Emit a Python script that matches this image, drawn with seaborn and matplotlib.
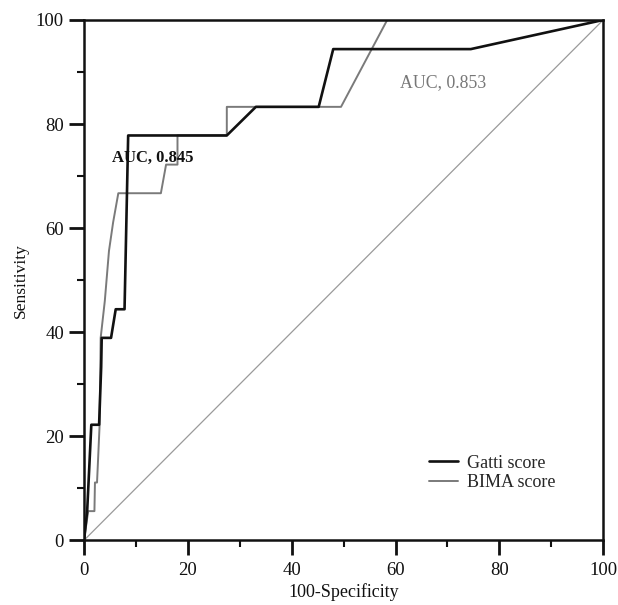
import matplotlib
matplotlib.use("Agg")
import matplotlib.pyplot as plt
import seaborn as sns
import pandas as pd
from matplotlib.ticker import MultipleLocator

# ROC data (100-Specificity, Sensitivity)
gatti_x = [0, 0.6, 1.4, 2.9, 3.3, 3.4, 5.2, 6.1, 7.8, 8.5, 27.5, 33.1, 45.2, 48.0, 74.5, 100]
gatti_y = [0, 5.6, 22.2, 22.2, 33.3, 38.9, 38.9, 44.4, 44.4, 77.8, 77.8, 83.3, 83.3, 94.4, 94.4, 100]

bima_x = [0, 0.8, 2.0, 2.1, 2.5, 3.0, 3.2, 4.0, 4.8, 5.6, 6.6, 14.8, 15.8, 18.0, 18.0, 27.5, 27.5, 49.5, 58.4, 100]
bima_y = [0, 5.6, 5.6, 11.1, 11.1, 22.2, 38.9, 46.0, 55.6, 61.1, 66.7, 66.7, 72.2, 72.2, 77.8, 77.8, 83.3, 83.3, 100, 100]

series_names = ["Gatti score", "BIMA score"]
auc_labels = ["AUC, 0.845", "AUC, 0.853"]
ticks = [0, 20, 40, 60, 80, 100]

df = pd.concat([
    pd.DataFrame({"x": gatti_x, "y": gatti_y, "score": series_names[0]}),
    pd.DataFrame({"x": bima_x, "y": bima_y, "score": series_names[1]}),
], ignore_index=True)

sns.set_theme(style="white")
plt.rcParams["font.family"] = ["Liberation Serif", "DejaVu Serif"]

fig = plt.figure(figsize=(6.18, 6.05), dpi=100)
ax = fig.add_axes([0.136, 0.107, 0.840, 0.860])

# reference diagonal
diag = pd.DataFrame({"x": [0, 100], "y": [0, 100]})
sns.lineplot(data=diag, x="x", y="y", ax=ax, color="#9a9a9a", linewidth=0.9,
             estimator=None, sort=False, legend=False)

palette = {series_names[0]: "#111111", series_names[1]: "#7a7a7a"}
sizes = {series_names[0]: 1.9, series_names[1]: 1.4}
for name in series_names[::-1]:
    sub = df[df["score"] == name]
    sns.lineplot(data=sub, x="x", y="y", ax=ax, color=palette[name],
                 linewidth=sizes[name], estimator=None, sort=False, label=name)

ax.set_xlim(0, 100)
ax.set_ylim(0, 100)
ax.set_xticks(ticks)
ax.set_yticks(ticks)
ax.xaxis.set_minor_locator(MultipleLocator(10))
ax.yaxis.set_minor_locator(MultipleLocator(10))
ax.tick_params(which="major", direction="out", length=10.5, width=2.0, labelsize=13.5, colors="#111111")
ax.tick_params(which="minor", direction="out", length=5, width=1.5, colors="#111111")
ax.tick_params(axis="x", which="major", pad=5)
ax.tick_params(axis="y", which="major", pad=4)
ax.tick_params(bottom=True, left=True, which="both")
for s in ax.spines.values():
    s.set_color("#111111")
    s.set_linewidth(1.8)

ax.set_xlabel("100-Specificity", fontsize=13, color="#111111", labelpad=3)
ax.set_ylabel("Sensitivity", fontsize=12.5, color="#111111", labelpad=5)

ax.text(5.3, 73.5, auc_labels[0], fontsize=12, fontweight="bold", color="#111111", va="center")
ax.text(60.8, 87.9, auc_labels[1], fontsize=12.8, color="#777777", va="center")

handles, labels = ax.get_legend_handles_labels()
order = [labels.index(n) for n in series_names]
leg = ax.legend([handles[i] for i in order], [labels[i] for i in order],
                loc="lower left", bbox_to_anchor=(0.634, 0.063), frameon=False,
                fontsize=13, handlelength=1.6, handletextpad=0.5, labelspacing=0.15)

fig.savefig("out.png", dpi=100)
